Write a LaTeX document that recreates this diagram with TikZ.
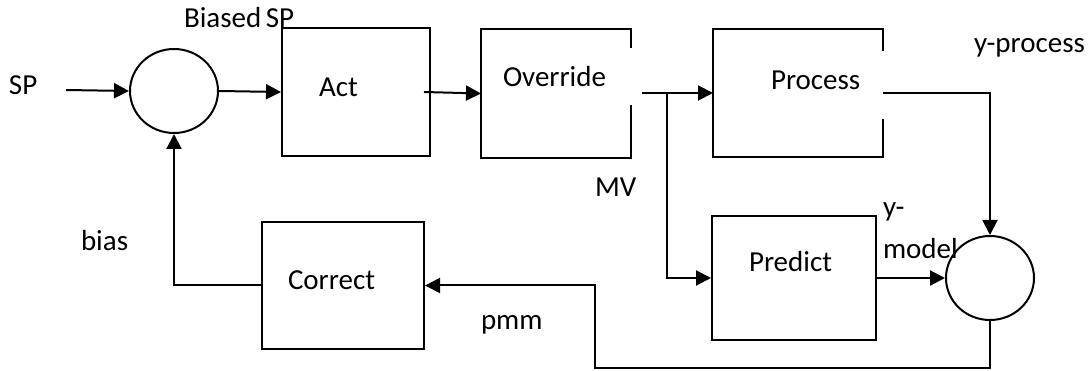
\documentclass[tikz,border=0pt]{standalone}
\usepackage{fontspec}
\setmainfont{Carlito}
\usetikzlibrary{arrows.meta,shapes.geometric}
\begin{document}
\begin{tikzpicture}[x=1pt,y=-1pt,line width=2pt,
  lbl/.style={anchor=base west,inner sep=0pt,font=\fontsize{29}{34}\selectfont},
  blk/.style={rectangle,inner sep=0pt},
  sumc/.style={draw,ellipse,inner sep=0pt,minimum width=88pt,minimum height=84pt},
  arr/.style={-{Triangle[length=15pt,width=15pt]}}]
\useasboundingbox (0,0) rectangle (1090,371);
% summing junctions
\node[sumc] (sum1) at (174,91) {};
\node[sumc] (sum2) at (990,278) {};
% blocks
\node[blk,draw,minimum width=148pt,minimum height=128pt] (act) at (356,92) {};
\node[blk,minimum width=148pt,minimum height=127pt] (ovr) at (556,93.5) {};
\node[blk,minimum width=168pt,minimum height=126pt] (proc) at (798,93) {};
\node[blk,draw,minimum width=164pt,minimum height=124pt] (pred) at (794,278) {};
\node[blk,draw,minimum width=162pt,minimum height=127pt] (corr) at (343,285.5) {};
% outlines with gaps on right edge
\draw ([yshift=-19pt]ovr.north east) -- (ovr.north east) -- (ovr.north west)
  -- (ovr.south west) -- (ovr.south east) -- ([yshift=53pt]ovr.south east);
\draw ([yshift=-22pt]proc.north east) -- (proc.north east) -- (proc.north west)
  -- (proc.south west) -- (proc.south east) -- ([yshift=38pt]proc.south east);
% labels
\node[lbl] (tsp) at (8,95) {SP};
\node[lbl] (tbsp) at (183,28) {Biased\hspace{-2pt} SP};
\node[lbl] (tact) at (318,97) {Act};
\node[lbl] (tovr) at (502,87) {Override};
\node[lbl] (tproc) at (770,90) {Process};
\node[lbl] (tpred) at (748,272) {Predict};
\node[lbl] (tcorr) at (287,290) {Correct};
\node[lbl] (tbias) at (80,251) {bias};
\node[lbl] (tmv) at (594,197) {MV};
\node[lbl] (tpmm) at (480,330) {pmm};
\node[lbl] (typ) at (973,53) {y-process};
\node[lbl] (tym1) at (882,217) {y-};
\node[lbl] (tym2) at (882,259) {model};
% connectors
\coordinate (spin) at (66,90);
\coordinate (actout) at (424,92);
\coordinate (mvout) at (642,93);
\coordinate (jn) at (667,93);
\coordinate (lp) at (595,368);
\draw[arr] (spin) -- (sum1.west);
\draw[arr] (sum1.east) -- (act.west);
\draw[arr] (actout) -- (ovr.west);
\draw[arr] (mvout) -- (proc.west);
\draw[arr] (jn) |- (pred.west);
\draw[arr] (proc.east) -| (sum2.north);
\draw[arr] (pred.east) -- (sum2.west);
\draw[arr] (sum2.south) |- (lp) |- (corr.east);
\draw[arr] (corr.west) -| (sum1.south);
\end{tikzpicture}
\end{document}
